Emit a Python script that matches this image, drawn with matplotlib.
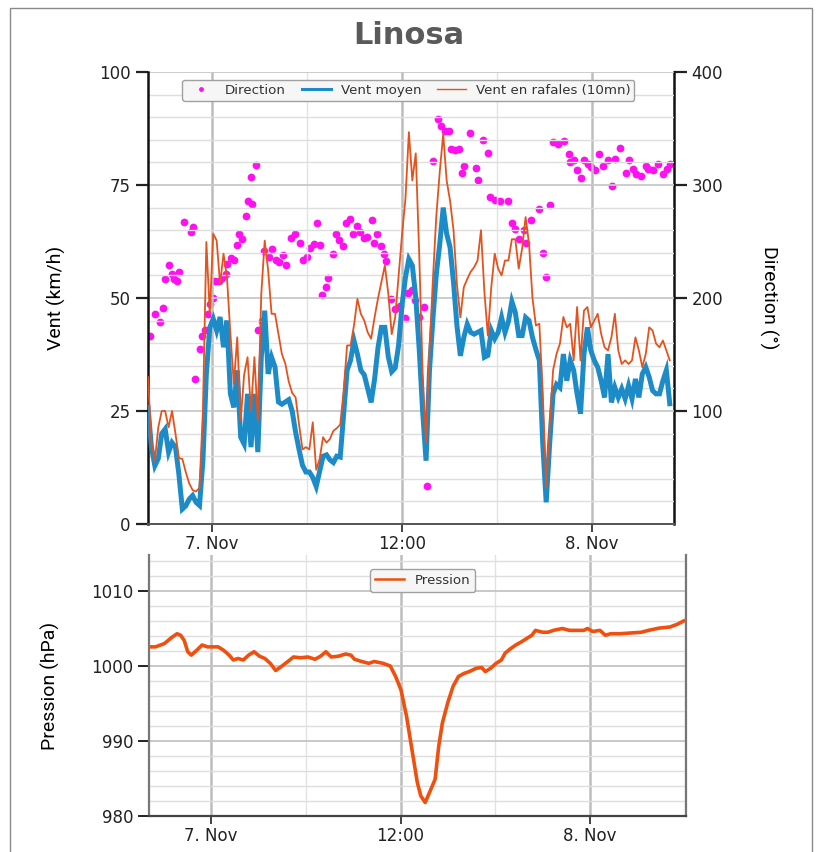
"""
plot.py – Linosa : vent, direction et pression (6-8 nov.)
"""
import matplotlib
matplotlib.use("Agg")

import matplotlib.pyplot as plt
import matplotlib.dates as mdates
from matplotlib.lines import Line2D
from matplotlib.patches import Rectangle
from matplotlib.ticker import MultipleLocator, FixedLocator, FuncFormatter
import pandas as pd

# ───────────────────────── data ─────────────────────────────────────────────
REF = pd.Timestamp("2019-11-07 00:00")          # "7. Nov"

# vent (km/h), un relevé toutes les 13 min depuis le 6 nov. 19:58
vent_moyen = [
    25.8, 17, 12.9, 14.5, 20, 21, 15.9, 18, 17, 11,
    3.3, 4, 5.5, 6.3, 4.8, 4.1, 14, 33.2, 43.5, 45.4,
    42.8, 45.8, 39.1, 45, 28.8, 25.8, 34, 19.2, 17.7, 28.8,
    17, 28.8, 15.9, 36.9, 47.2, 33.2, 36.9, 34.7, 27, 26.5,
    27, 27.5, 25, 20.3, 16.5, 13, 11.5, 11.5, 10.3, 8.3,
    11.6, 15, 15.3, 14.2, 13.6, 15, 14.8, 24.4, 34, 36.2,
    40.6, 37.6, 34, 33, 30, 26.9, 32, 39, 43.5, 43.5,
    37, 33.7, 34.5, 39.5, 48.4, 54.6, 58.6, 57.2, 50.2, 38.8,
    25, 14, 34, 45.4, 55.4, 62, 70, 64.2, 61.2, 53.5,
    43.9, 37.2, 41.3, 44.2, 42.4, 42, 42.4, 42.8, 36.9, 37.3,
    42.8, 41, 42.4, 45.7, 42.4, 44.8, 49.2, 46.8, 41.7, 41.7,
    45.7, 45, 41.3, 38.6, 36.2, 17.7, 4.8, 17.7, 28.8, 30.9,
    30.2, 37.6, 31.7, 36.2, 34, 28.8, 24.4, 37.6, 43.5, 38.4,
    36.2, 34.7, 31.7, 28, 37.6, 26.9, 30.2, 28, 29.9, 27.7,
    30.6, 27.7, 32.1, 28, 33.2, 34.7, 32.5, 29.5, 28.8, 28.8,
    31.7, 34, 26.6,
]
vent_rafales = [
    32.5, 18, 14, 21.4, 25, 25, 21.4, 25, 20, 14.6,
    14.4, 11.5, 9, 7.5, 7.2, 8, 25, 62.4, 46.5, 64.2,
    62.7, 53.1, 59.8, 54.6, 42.1, 31, 41.3, 22.9, 33, 36.9,
    25.1, 36.9, 22.9, 50.9, 62.7, 56.1, 46.5, 46.5, 42, 37.6,
    35.5, 31.5, 29, 28, 22, 16.5, 17, 16.5, 22.5, 12,
    14.4, 19.2, 18, 18.8, 20.6, 21.2, 22, 29.5, 39.5, 39.5,
    43.9, 49.8, 46.5, 45, 42.4, 41, 45.7, 49.9, 53.5, 57.2,
    51, 42, 45.7, 55, 64, 72, 86.7, 76, 82, 60,
    33.5, 18, 38.4, 54.2, 68.3, 78, 86.3, 76, 71.5, 65,
    53, 45.7, 52.4, 54.2, 55.8, 56.8, 58.3, 65, 51.3, 41.7,
    52.4, 59.8, 56.5, 55, 58.3, 58.3, 63, 63, 56.5, 61,
    67.9, 62, 50, 43.9, 44.3, 28.8, 8.1, 21.4, 34, 37.6,
    39.9, 45.8, 43.5, 44.3, 36.2, 48, 36.2, 47.2, 48, 43.5,
    45, 46.5, 42.1, 39.1, 38.4, 41.3, 46.5, 38.4, 35.4, 36.2,
    35.4, 36.2, 41.3, 38.4, 34.7, 37.6, 43.5, 42.8, 39.9, 39.1,
    40.6, 38.4, 36.2,
]

# direction (°), heures depuis le 7 nov. 00:00
dir_heures = [
    -3.92, -3.59, -3.26, -3.09, -2.94, -2.72, -2.50, -2.39, -2.22, -2.07,
    -1.74, -1.35, -1.20, -1.09, -0.76, -0.65, -0.44, -0.26, -0.11, 0.07,
    0.22, 0.44, 0.65, 0.87, 0.98, 1.20, 1.41, 1.59, 1.74, 1.91,
    2.13, 2.28, 2.50, 2.44, 2.79, 2.89, 3.15, 3.31, 3.59, 3.81,
    4.03, 4.24, 4.46, 4.68, 5.00, 5.27, 5.55, 5.77, 5.98, 6.20,
    6.42, 6.64, 6.85, 6.96, 7.18, 7.35, 7.62, 7.83, 8.05, 8.27,
    8.49, 8.70, 8.92, 9.18, 9.36, 9.57, 9.79, 10.12, 10.23, 10.44,
    10.66, 10.88, 10.99, 11.31, 11.53, 11.86, 12.18, 12.40, 12.62, 12.84,
    13.05, 13.38, 13.60, 13.93, 14.25, 14.47, 14.69, 14.97, 15.12, 15.34,
    15.62, 15.77, 15.93, 16.27, 16.65, 16.82, 17.12, 17.45, 17.58, 17.84,
    18.17, 18.71, 18.93, 19.15, 19.36, 19.69, 19.80, 20.13, 20.67, 20.89,
    21.11, 21.32, 21.54, 21.87, 22.24, 22.52, 22.63, 22.85, 23.06, 23.28,
    23.50, 23.72, 23.93, 24.15, 24.43, 24.70, 25.02, 25.28, 25.46, 25.78,
    26.11, 26.33, 26.59, 26.76, 27.09, 27.37, 27.52, 27.85, 28.18, 28.50,
    28.72, 28.94,
]
direction = [
    166, 186, 179, 191, 217, 229, 221, 217, 215, 223,
    267, 258, 263, 128, 155, 166, 172, 186, 195, 200,
    215, 215, 218, 221, 230, 235, 234, 247, 257, 252,
    273, 286, 283, 307, 318, 172, 180, 242, 236, 243,
    234, 232, 238, 229, 253, 257, 249, 234, 236, 244,
    248, 266, 247, 203, 210, 218, 239, 257, 251, 246,
    266, 270, 257, 264, 258, 253, 254, 269, 249, 257,
    246, 239, 233, 199, 190, 193, 182, 204, 207, 198,
    183, 192, 34, 321, 358, 352, 348, 348, 332, 331,
    332, 311, 317, 346, 315, 304, 340, 328, 289, 287,
    286, 286, 266, 261, 252, 260, 249, 269, 279, 240,
    219, 282, 338, 336, 339, 327, 320, 322, 313, 306,
    322, 319, 316, 313, 327, 317, 322, 299, 323, 333,
    311, 322, 314, 310, 308, 317, 314, 313, 319, 310,
    314, 319,
]

# pression (hPa), heures depuis le 7 nov. 00:00
pres_heures = [
    -3.97, -3.52, -2.95, -2.50, -2.16, -1.93, -1.70, -1.48, -1.25, -0.91,
    -0.57, -0.23, 0.11, 0.45, 0.79, 1.14, 1.41, 1.70, 2.04, 2.38,
    2.72, 3.07, 3.41, 3.75, 4.09, 4.43, 4.77, 5.22, 5.68, 6.13,
    6.58, 6.93, 7.27, 7.61, 8.06, 8.52, 8.86, 9.08, 9.54, 9.99,
    10.33, 10.90, 11.35, 11.69, 12.03, 12.38, 12.72, 13.06, 13.28, 13.56,
    13.85, 14.19, 14.42, 14.65, 14.99, 15.33, 15.67, 16.01, 16.35, 16.80,
    17.14, 17.37, 17.71, 18.05, 18.39, 18.62, 18.96, 19.30, 19.64, 19.98,
    20.32, 20.55, 21.00, 21.34, 21.68, 21.91, 22.25, 22.70, 23.16, 23.61,
    23.84, 24.18, 24.63, 24.97, 25.31, 25.88, 26.56, 27.25, 27.70, 28.38,
    29.06, 29.52, 29.93,
]
pression = [
    1002.55, 1002.55, 1003.0, 1003.8, 1004.3, 1004.1, 1003.4, 1001.9, 1001.45, 1002.1,
    1002.8, 1002.55, 1002.55, 1002.55, 1002.1, 1001.45, 1000.8, 1001.0, 1000.8, 1001.45,
    1001.9, 1001.3, 1001.0, 1000.35, 999.4, 999.9, 1000.45, 1001.2, 1001.1, 1001.2,
    1000.9, 1001.3, 1001.9, 1001.2, 1001.3, 1001.6, 1001.45, 1000.9, 1000.6, 1000.35,
    1000.6, 1000.35, 1000.0, 998.6, 996.8, 993.3, 988.9, 984.5, 982.7, 981.8,
    983.2, 984.9, 989.3, 992.4, 995.1, 997.3, 998.6, 999.0, 999.25, 999.7,
    999.8, 999.25, 999.7, 1000.35, 1000.8, 1001.7, 1002.3, 1002.8, 1003.2, 1003.65,
    1004.1, 1004.75, 1004.5, 1004.5, 1004.75, 1004.85, 1005.0, 1004.75, 1004.75, 1004.75,
    1005.0, 1004.6, 1004.75, 1004.1, 1004.3, 1004.3, 1004.4, 1004.5, 1004.75, 1005.05,
    1005.2, 1005.55, 1006.0,
]

t_vent = pd.date_range("2019-11-06 19:58", periods=len(vent_moyen), freq="13min")
t_dir = REF + pd.to_timedelta(dir_heures, unit="h")
t_pres = REF + pd.to_timedelta(pres_heures, unit="h")

# ───────────────────────── style ────────────────────────────────────────────
C_MOYEN = "#1e8bc9"
C_RAFALE = "#e4531e"
C_DIR = "#ff10f0"
C_PRES = "#f0500f"
LABEL_FONT = ["Liberation Sans Narrow", "Roboto", "DejaVu Sans"]

plt.rcParams["font.family"] = ["DejaVu Sans"]


def fmt_date(x, pos=None):
    d = mdates.num2date(x)
    if d.hour == 0 and d.minute == 0:
        return f"{d.day}. {d.strftime('%b')}"
    return d.strftime("%H:%M")


def style_time_axis(ax):
    ax.xaxis.set_major_locator(mdates.HourLocator(byhour=[0, 12]))
    ax.xaxis.set_minor_locator(mdates.HourLocator(byhour=[6, 18]))
    ax.xaxis.set_major_formatter(FuncFormatter(fmt_date))
    ax.tick_params(axis="x", which="major", length=6, width=1.2,
                   labelsize=12, pad=2, colors="#222")
    ax.tick_params(axis="x", which="minor", length=0)
    ax.grid(True, axis="x", which="major", color="#bdbdbd", lw=1.8)
    ax.grid(True, axis="x", which="minor", color="#e2e2e2", lw=1.0)
    ax.set_axisbelow(True)


def style_legend(leg):
    leg.get_frame().set_facecolor("#f6f6f6")
    leg.get_frame().set_edgecolor("#a0a0a0")
    leg.get_frame().set_alpha(1)
    for txt in leg.get_texts():
        txt.set_color("#333")


fig = plt.figure(figsize=(8.17, 8.52), dpi=100)
fig.patches.append(Rectangle((10 / 817, -0.01), 802 / 817, 1 - 8 / 852 + 0.01,
                             transform=fig.transFigure, fill=False,
                             edgecolor="#8a8a8a", lw=1.0))

fig.text(0.5, 1 - 36 / 852, "Linosa", ha="center", va="center",
         fontsize=22, fontweight="semibold", color="#5a5a5a")

# ───────────────────────── vent + direction ─────────────────────────────────
ax = fig.add_axes([148 / 817, 1 - 524 / 852, 526 / 817, 452 / 852])
ax2 = ax.twinx()
ax.set_zorder(ax2.get_zorder() + 1)
ax.patch.set_visible(False)

ax2.plot(t_dir, direction, "o", color=C_DIR, ms=5.6, mec="none", zorder=2)
ax.plot(t_vent, vent_moyen, color=C_MOYEN, lw=3.6, zorder=3,
        solid_joinstyle="miter")
ax.plot(t_vent, vent_rafales, color=C_RAFALE, lw=1.3, zorder=4)

ax.set_xlim(pd.Timestamp("2019-11-06 19:58"), pd.Timestamp("2019-11-08 05:10"))
ax.set_ylim(0, 100)
ax2.set_ylim(0, 400)

ax.yaxis.set_major_locator(MultipleLocator(25))
ax.yaxis.set_minor_locator(MultipleLocator(5))
ax.grid(True, axis="y", which="major", color="#c8c8c8", lw=1.3)
ax.grid(True, axis="y", which="minor", color="#dedede", lw=1.0)
style_time_axis(ax)

ax.tick_params(axis="y", which="major", length=9, width=1.6, labelsize=12,
               colors="#222")
ax.tick_params(axis="y", which="minor", length=0)
ax2.yaxis.set_major_locator(FixedLocator([100, 200, 300, 400]))
ax2.tick_params(axis="y", length=9, width=1.6, labelsize=12, colors="#222")

for a in (ax, ax2):
    a.spines["top"].set_visible(False)
ax.spines["left"].set_linewidth(1.8)
ax.spines["left"].set_color("#111")
ax.spines["right"].set_visible(False)
ax.spines["bottom"].set_color("#555")
ax.spines["bottom"].set_linewidth(1.4)
ax2.spines["left"].set_visible(False)
ax2.spines["bottom"].set_visible(False)
ax2.spines["right"].set_linewidth(1.8)
ax2.spines["right"].set_color("#111")

ax.set_ylabel("Vent (km/h)", family=LABEL_FONT, fontsize=14, labelpad=24)
ax2.set_ylabel("Direction (°)", family=LABEL_FONT, fontsize=14,
               rotation=-90, labelpad=40)

handles = [
    Line2D([], [], ls="none", marker="o", ms=3.5, color=C_DIR, mec="none"),
    Line2D([], [], color=C_MOYEN, lw=2.2),
    Line2D([], [], color=C_RAFALE, lw=1.0),
]
leg = ax.legend(handles, ["Direction", "Vent moyen", "Vent en rafales (10mn)"],
                loc="upper center", bbox_to_anchor=(0.495, 0.998), ncol=3,
                fontsize=9.6, frameon=True, fancybox=True, handlelength=2.2,
                handletextpad=0.7, columnspacing=1.2, borderpad=0.3)
style_legend(leg)

# ───────────────────────── pression ─────────────────────────────────────────
axp = fig.add_axes([149 / 817, 1 - 816 / 852, 537 / 817, 261 / 852])
axp.plot(t_pres, pression, color=C_PRES, lw=2.6, zorder=3)
axp.set_xlim(pd.Timestamp("2019-11-06 20:04"), pd.Timestamp("2019-11-08 06:05"))
axp.set_ylim(980, 1014.8)
axp.yaxis.set_major_locator(MultipleLocator(10))
axp.yaxis.set_minor_locator(MultipleLocator(2))
axp.grid(True, axis="y", which="major", color="#c4c4c4", lw=1.3)
axp.grid(True, axis="y", which="minor", color="#dedede", lw=1.0)
style_time_axis(axp)
axp.tick_params(axis="y", which="major", length=8, width=1.4, labelsize=12,
                colors="#222")
axp.tick_params(axis="y", which="minor", length=0)
axp.spines["top"].set_visible(False)
axp.spines["left"].set_color("#777")
axp.spines["left"].set_linewidth(1.6)
axp.spines["right"].set_color("#777")
axp.spines["right"].set_linewidth(1.6)
axp.spines["bottom"].set_color("#444")
axp.spines["bottom"].set_linewidth(1.6)
axp.set_ylabel("Pression (hPa)", family=LABEL_FONT, fontsize=14, labelpad=22)

legp = axp.legend(["Pression"], loc="upper center", bbox_to_anchor=(0.51, 0.97),
                  fontsize=9.6, frameon=True, fancybox=True, handlelength=2.2,
                  borderpad=0.35)
legp.get_lines()[0].set_linewidth(1.8)
style_legend(legp)

fig.savefig("out.png", dpi=100)
